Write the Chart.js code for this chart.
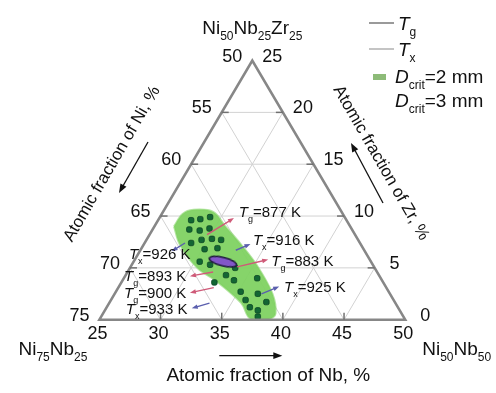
<!DOCTYPE html>
<html><head><meta charset="utf-8">
<script src="https://cdn.jsdelivr.net/npm/chart.js@4.4.1/dist/chart.umd.min.js"></script>
<style>html,body{margin:0;padding:0;background:#fff}canvas{display:block}</style>
</head><body>
<canvas id="c" width="496" height="393"></canvas>
<script>
// Ternary section Ni75Nb25 – Ni50Nb50 – Ni50Nb25Zr25, compositions in at.%
const nbTicks = [25, 30, 35, 40, 45, 50];
const niTicks = [50, 55, 60, 65, 70, 75];
const zrTicks = [25, 20, 15, 10, 5, 0];

// Glass-forming range with D_crit = 2 mm, outline as (Nb, Zr)
const region2mmNb = [26.6, 26.7, 27.4, 29.1, 30.8, 32.9, 35.3, 37.9, 39.1, 38.9, 37.3, 35.8, 32.9, 30.5, 28.0, 26.6];
const region2mmZr = [9.0, 10.2, 10.6, 10.4, 9.0, 7.3, 5.2, 2.5, 0.6, 0.1, 0.1, 1.6, 3.6, 5.0, 7.2, 9.0];

// Alloys cast and examined
const alloyNb = [27.7, 28.4, 29.1, 28.0, 28.9, 29.6, 28.8, 29.5, 30.3, 31.1, 30.2, 31.2, 30.4, 31.4, 33.6, 32.6, 33.2, 34.1, 35.2, 35.9, 36.7, 36.0, 36.7, 37.5, 37.8, 37.8];
const alloyZr = [9.6, 9.7, 9.9, 8.7, 8.6, 8.8, 7.4, 7.7, 7.8, 7.7, 6.8, 6.9, 5.6, 5.3, 5.0, 3.6, 4.3, 3.8, 2.7, 4.0, 2.5, 1.9, 1.2, 0.9, 1.7, 0.3];

// Composition with D_crit = 3 mm
const best3mmNb = [32.3];
const best3mmZr = [5.6];

// Characteristic temperatures: kind, value (K), arrow tail/head and label anchor as (Nb, Zr)
const tempKind  = ['g', 'x', 'g', 'x', 'x', 'g', 'g', 'x'];
const tempValue = [877, 916, 883, 925, 926, 893, 900, 933];
const tailNb = [29.7, 32.8, 33.7, 37.0, 28.3, 32.0, 32.8, 33.2];
const tailZr = [8.2, 6.7, 5.1, 2.5, 7.4, 4.6, 3.1, 1.6];
const headNb = [31.1, 33.7, 35.9, 38.1, 27.6, 30.3, 31.1, 32.0];
const headZr = [9.8, 7.3, 5.8, 3.2, 6.6, 4.2, 2.6, 1.1];
const labelNb = [31.2, 33.7, 36.2, 38.5, 29.3, 30.0, 30.8, 31.7];
const labelZr = [10.4, 7.7, 5.7, 3.2, 6.3, 4.2, 2.6, 1.0];
const labelSide = ['r', 'r', 'r', 'r', 'l', 'l', 'l', 'l'];

const H = Math.sqrt(3) / 2;
function tern(nb, zr) {
  const a = (nb - 25) / 25, b = zr / 25;
  return { x: a + b / 2, y: b * H };
}
const zip = (nbs, zrs) => nbs.map((nb, i) => tern(nb, zrs[i]));

const FONT = '"Liberation Sans", Arial, sans-serif';
const GRID = '#d2d2d2', EDGE = '#878787', TICK = '#707070';
const TG_COL = '#cf5a78', TX_COL = '#5b5fae';

// purple ellipse marker
const ell = document.createElement('canvas');
ell.width = 32; ell.height = 12;
(() => {
  const g = ell.getContext('2d');
  g.beginPath();
  g.ellipse(16, 6, 14, 4.3, 0, 0, Math.PI * 2);
  g.fillStyle = '#8257c8'; g.fill();
  g.lineWidth = 1.6; g.strokeStyle = '#1d1b3a'; g.stroke();
})();

// text with subscripts; segs: [text, italic?, sub?]
function rich(ctx, segs, x, y, size, align) {
  const subSize = Math.round(size * 0.62);
  let w = 0;
  const parts = segs.map(s => {
    const f = (s[1] ? 'italic ' : '') + (s[2] ? subSize : size) + 'px ' + FONT;
    ctx.font = f;
    const m = ctx.measureText(s[0]).width;
    w += m;
    return { t: s[0], f, m, sub: s[2] };
  });
  let cx = align === 'center' ? x - w / 2 : align === 'right' ? x - w : x;
  ctx.textBaseline = 'alphabetic';
  ctx.textAlign = 'left';
  parts.forEach(p => {
    ctx.font = p.f;
    ctx.fillText(p.t, cx, y + (p.sub ? size * 0.34 : 0));
    cx += p.m;
  });
}

function arrow(ctx, x1, y1, x2, y2, col, w, head) {
  const ang = Math.atan2(y2 - y1, x2 - x1);
  ctx.strokeStyle = col; ctx.fillStyle = col; ctx.lineWidth = w;
  ctx.beginPath();
  ctx.moveTo(x1, y1);
  ctx.lineTo(x2 - Math.cos(ang) * head * 0.7, y2 - Math.sin(ang) * head * 0.7);
  ctx.stroke();
  ctx.beginPath();
  ctx.moveTo(x2, y2);
  ctx.lineTo(x2 - head * Math.cos(ang) + head * 0.38 * Math.sin(ang), y2 - head * Math.sin(ang) - head * 0.38 * Math.cos(ang));
  ctx.lineTo(x2 - head * Math.cos(ang) - head * 0.38 * Math.sin(ang), y2 - head * Math.sin(ang) + head * 0.38 * Math.cos(ang));
  ctx.closePath(); ctx.fill();
}

const ternaryFrame = {
  id: 'ternaryFrame',
  beforeDatasetsDraw(chart) {
    const { ctx, scales: { x, y } } = chart;
    const P = (nb, zr) => { const t = tern(nb, zr); return [x.getPixelForValue(t.x), y.getPixelForValue(t.y)]; };
    ctx.save();
    ctx.lineWidth = 1; ctx.strokeStyle = GRID;
    const seg = (p, q) => { ctx.beginPath(); ctx.moveTo(p[0], p[1]); ctx.lineTo(q[0], q[1]); ctx.stroke(); };
    for (let k = 1; k < 5; k++) {
      const v = 5 * k;
      seg(P(25, v), P(50 - v, v));           // constant Zr
      seg(P(25 + v, 0), P(25 + v, 25 - v));  // constant Nb
      seg(P(50 - v, 0), P(25, 25 - v));      // constant Ni
    }
    ctx.restore();
  },
  afterDatasetsDraw(chart) {
    const { ctx, scales: { x, y } } = chart;
    const P = (nb, zr) => { const t = tern(nb, zr); return [x.getPixelForValue(t.x), y.getPixelForValue(t.y)]; };
    ctx.save();
    // triangle
    const A = P(25, 0), B = P(50, 0), C = P(25, 25);
    ctx.strokeStyle = EDGE; ctx.lineWidth = 2.6; ctx.lineJoin = 'miter';
    ctx.beginPath(); ctx.moveTo(A[0], A[1]); ctx.lineTo(B[0], B[1]); ctx.lineTo(C[0], C[1]); ctx.closePath(); ctx.stroke();
    // ticks
    ctx.strokeStyle = TICK; ctx.lineWidth = 1.5;
    nbTicks.slice(1, -1).forEach(v => { const p = P(v, 0); ctx.beginPath(); ctx.moveTo(p[0], p[1]); ctx.lineTo(p[0], p[1] - 7); ctx.stroke(); });
    niTicks.slice(1, -1).forEach(v => { const p = P(25, 75 - v); ctx.beginPath(); ctx.moveTo(p[0], p[1]); ctx.lineTo(p[0] + 7, p[1]); ctx.stroke(); });
    zrTicks.slice(1, -1).forEach(v => { const p = P(50 - v, v); ctx.beginPath(); ctx.moveTo(p[0], p[1]); ctx.lineTo(p[0] - 7, p[1]); ctx.stroke(); });

    // tick labels
    ctx.fillStyle = '#111';
    ctx.font = '18px ' + FONT; ctx.textAlign = 'center'; ctx.textBaseline = 'middle';
    nbTicks.forEach(v => { const p = P(v, 0); ctx.fillText(String(v), p[0] - 2, p[1] + 14); });
    niTicks.forEach(v => { const p = P(25, 75 - v); ctx.fillText(String(v), p[0] - 20, p[1] - 4); });
    zrTicks.forEach(v => { const p = P(50 - v, v); ctx.fillText(String(v), p[0] + 20, p[1] - 4); });

    // corner compositions
    rich(ctx, [['Ni'], ['50', 0, 1], ['Nb'], ['25', 0, 1], ['Zr'], ['25', 0, 1]], C[0], C[1] - 27, 19, 'center');
    rich(ctx, [['Ni'], ['75', 0, 1], ['Nb'], ['25', 0, 1]], A[0] - 12, A[1] + 35, 19, 'right');
    rich(ctx, [['Ni'], ['50', 0, 1], ['Nb'], ['50', 0, 1]], B[0] + 17, B[1] + 35, 19, 'left');

    // axis titles with direction arrows
    ctx.fillStyle = '#111'; ctx.font = '19px ' + FONT; ctx.textAlign = 'center'; ctx.textBaseline = 'middle';
    const mid = (A[0] + B[0]) / 2;
    ctx.fillText('Atomic fraction of Nb, %', mid + 16, A[1] + 56);
    arrow(ctx, mid - 33, A[1] + 36, mid + 30, A[1] + 36, '#111', 1.3, 9);

    ctx.font = '17px ' + FONT;
    ctx.save(); ctx.translate(112, 164); ctx.rotate(-Math.PI / 3);
    ctx.fillText('Atomic fraction of Ni, %', 0, 0); ctx.restore();
    arrow(ctx, 148, 142, 119, 193, '#111', 1.3, 9);

    ctx.save(); ctx.translate(381, 163); ctx.rotate(Math.PI / 3);
    ctx.fillText('Atomic fraction of Zr, %', 0, 0); ctx.restore();
    arrow(ctx, 383, 203, 351, 143, '#111', 1.3, 9);

    // temperature arrows and labels
    tempValue.forEach((v, i) => {
      const t = P(tailNb[i], tailZr[i]), h = P(headNb[i], headZr[i]), l = P(labelNb[i], labelZr[i]);
      arrow(ctx, t[0], t[1], h[0], h[1], tempKind[i] === 'g' ? TG_COL : TX_COL, 1.4, 6);
      ctx.fillStyle = '#111';
      rich(ctx, [['T', 1], [tempKind[i], 0, 1], ['=' + v + ' K']], l[0], l[1] + 5, 15, labelSide[i] === 'r' ? 'left' : 'right');
    });

    // legend
    ctx.lineWidth = 2;
    ctx.strokeStyle = '#9a9a9a'; ctx.beginPath(); ctx.moveTo(369, 23); ctx.lineTo(394, 23); ctx.stroke();
    ctx.strokeStyle = '#c4c4c4'; ctx.beginPath(); ctx.moveTo(369, 49); ctx.lineTo(394, 49); ctx.stroke();
    ctx.fillStyle = '#8dbb78'; ctx.fillRect(373, 74, 13, 6);
    ctx.fillStyle = '#111';
    rich(ctx, [['T', 1], ['g', 0, 1]], 398, 30, 19, 'left');
    rich(ctx, [['T', 1], ['x', 0, 1]], 398, 56, 19, 'left');
    rich(ctx, [['D', 1], ['crit', 0, 1], ['=2 mm']], 395, 83, 19, 'left');
    rich(ctx, [['D', 1], ['crit', 0, 1], ['=3 mm']], 395, 107, 19, 'left');
    ctx.restore();
  }
};

new Chart(document.getElementById('c'), {
  type: 'scatter',
  data: {
    datasets: [
      {
        label: 'Dcrit=3 mm', data: zip(best3mmNb, best3mmZr),
        pointStyle: ell, rotation: 14, radius: 10, order: 0
      },
      {
        label: 'alloys', data: zip(alloyNb, alloyZr),
        pointStyle: 'rectRounded', radius: 3.2, backgroundColor: '#136633', borderColor: '#0c4524', borderWidth: 0.8, order: 1
      },
      {
        label: 'Dcrit=2 mm', data: zip(region2mmNb, region2mmZr), showLine: true,
        fill: 'shape', backgroundColor: 'rgba(128,210,98,0.95)', borderColor: 'rgba(128,210,98,0.6)', borderWidth: 2,
        tension: 0.35, pointRadius: 0, order: 2
      }
    ]
  },
  options: {
    responsive: false, animation: false,
    layout: { padding: 0 },
    scales: {
      x: { type: 'linear', display: false, min: -92.5 / 320, max: (496 - 92.5) / 320 },
      y: { type: 'linear', display: false, min: -(393 - 327) / (274.5 / H), max: 327 / (274.5 / H) }
    },
    plugins: { legend: { display: false }, tooltip: { enabled: false } }
  },
  plugins: [ternaryFrame]
});
</script>
</body></html>
